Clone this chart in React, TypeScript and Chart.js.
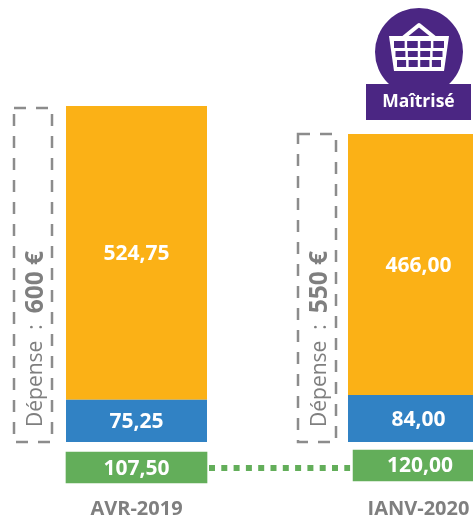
import { useEffect, useRef } from "react";
import { Chart, registerables } from "chart.js";

Chart.register(...registerables);

const periods = ["AVR-2019", "JANV-2020"];
const blueValues = [75.25, 84.0];
const orangeValues = [524.75, 466.0];
const greenValues = [107.5, 120.0];
const spendTotals = [600, 550];
const badgeLabel = "Maîtrisé";

const FONT = '"Open Sans", sans-serif';
const GRAY = "#7f7f7f";
const PURPLE = "#4b2683";
const fmt = (v: number) => v.toFixed(2).replace(".", ",");

// layout of the green row, in value-axis units (0.56 px per unit)
const rowTop = [-17.9, -14.3];
const rowHeight = 55.3;
const rowShift = [0, 1.018];
const boxInset = [[52, 14], [50, 12]];

const overlay = {
  id: "overlay",
  afterDatasetsDraw(chart: any) {
    const { ctx } = chart;
    const y = chart.scales.y;
    const blue = chart.getDatasetMeta(0).data;
    const orange = chart.getDatasetMeta(1).data;
    const green = chart.getDatasetMeta(2).data;
    ctx.save();
    ctx.textAlign = "center";
    ctx.textBaseline = "middle";
    ctx.fillStyle = "#fff";
    ctx.font = `bold 21px ${FONT}`;
    periods.forEach((_, i) => {
      ctx.fillText(fmt(blueValues[i]), blue[i].x, (blue[i].y + blue[i].base) / 2 + 1.5);
      ctx.fillText(fmt(orangeValues[i]), orange[i].x, (orange[i].y + orange[i].base) / 2 + 1.5);
      ctx.fillText(fmt(greenValues[i]), green[i].x - i * 3.5, (green[i].y + green[i].base) / 2 + 1);
    });

    // dotted link between the green bars
    ctx.strokeStyle = "#63ae5a";
    ctx.lineWidth = 6;
    ctx.setLineDash([6, 6.3]);
    const ly = (green[0].y + green[0].base) / 2 + 0.5;
    ctx.beginPath();
    ctx.moveTo(green[0].x + green[0].width / 2 + 2, ly);
    ctx.lineTo(green[1].x - green[1].width / 2 - 3, ly);
    ctx.stroke();

    // dashed spend boxes with rotated text
    periods.forEach((_, i) => {
      const left = blue[i].x - blue[i].width / 2;
      const x0 = left - boxInset[i][0];
      const x1 = left - boxInset[i][1];
      const top = y.getPixelForValue(spendTotals[i]) + (i === 0 ? 2 : 0);
      const bottom = y.getPixelForValue(0);
      ctx.strokeStyle = "#8c8c8c";
      ctx.lineWidth = 2.5;
      ctx.setLineDash([12, 10]);
      ctx.strokeRect(x0, top, x1 - x0, bottom - top);
      ctx.setLineDash([]);
      ctx.save();
      ctx.translate((x0 + x1) / 2 + 3, 427);
      ctx.rotate(-Math.PI / 2);
      ctx.textAlign = "left";
      ctx.fillStyle = GRAY;
      ctx.font = `21px ${FONT}`;
      const a = "Dépense  :  ";
      ctx.fillText(a, 0, 0);
      const w = ctx.measureText(a).width;
      ctx.font = `bold 24.5px ${FONT}`;
      ctx.fillText(`${spendTotals[i]} €`, w, 0);
      ctx.restore();
    });

    // badge above the second bar
    const cx = blue[1].x + 0.5;
    ctx.fillStyle = PURPLE;
    ctx.beginPath();
    ctx.arc(cx, 52, 44, 0, Math.PI * 2);
    ctx.fill();
    ctx.fillRect(cx - 53, 84, 105, 36);
    ctx.fillStyle = "#fff";
    ctx.font = `bold 17.5px ${FONT}`;
    ctx.fillText(badgeLabel, cx - 0.5, 102);

    // basket
    ctx.strokeStyle = "#fff";
    ctx.lineWidth = 4;
    ctx.lineJoin = "round";
    ctx.beginPath();
    ctx.moveTo(cx - 16, 38);
    ctx.lineTo(cx, 25);
    ctx.lineTo(cx + 16, 38);
    ctx.stroke();
    ctx.fillStyle = "#fff";
    ctx.beginPath();
    ctx.moveTo(cx - 30, 36);
    ctx.lineTo(cx + 30, 36);
    ctx.lineTo(cx + 25, 71);
    ctx.lineTo(cx - 25, 71);
    ctx.closePath();
    ctx.fill();
    ctx.fillStyle = PURPLE;
    const rows = [[41, 48, 25], [51, 57, 23.5], [60, 67, 22]];
    rows.forEach(([t, b, half]) => {
      const cw = (half * 2 - 7.5) / 4;
      for (let k = 0; k < 4; k++) {
        ctx.fillRect(cx - half + k * (cw + 2.5), t, cw, b - t);
      }
    });
    ctx.restore();
  },
};

export default function App() {
  const ref = useRef<HTMLCanvasElement>(null);
  useEffect(() => {
    const chart = new Chart(ref.current!, {
      type: "bar",
      data: {
        labels: periods,
        datasets: [
          { label: "Bleu", data: blueValues, backgroundColor: "#3182c4", xAxisID: "x", yAxisID: "y", barPercentage: 1, categoryPercentage: 0.5, grouped: false },
          { label: "Orange", data: orangeValues, backgroundColor: "#fbb116", xAxisID: "x", yAxisID: "y", barPercentage: 1, categoryPercentage: 0.5, grouped: false },
          {
            label: "Vert",
            data: greenValues.map((_, i) => ({ x: i * rowShift[1], y: [rowTop[i], rowTop[i] - rowHeight] })),
            backgroundColor: "#63ae5a",
            xAxisID: "x2",
            yAxisID: "y2",
            barThickness: 141,
            grouped: false,
          },
        ],
      } as any,
      options: {
        responsive: false,
        animation: false,
        devicePixelRatio: 1,
        layout: { padding: { left: 0.5, right: 0.5, top: 0, bottom: 0 } },
        plugins: { legend: { display: false }, tooltip: { enabled: false } },
        scales: {
          x: {
            stacked: true,
            grid: { display: false },
            border: { display: false },
            ticks: { color: GRAY, font: { family: FONT, size: 20, weight: "bold" }, padding: -1, maxRotation: 0 },
            afterFit(s: any) { s.height = 25; },
          },
          y: { stacked: true, display: false, min: -85.7, max: 789.3 },
          x2: { type: "linear", display: false, min: -0.5, max: 1.5, offset: false },
          y2: { display: false, min: -85.7, max: 789.3 },
        },
      } as any,
      plugins: [overlay],
    });
    return () => chart.destroy();
  }, []);
  return (
    <div style={{ position: "fixed", left: 0, top: 0, width: 473, height: 515, overflow: "hidden", background: "#fff" }}>
      <canvas ref={ref} width={565} height={515} style={{ position: "absolute", left: -5, top: 0, width: 565, height: 515 }} />
    </div>
  );
}
